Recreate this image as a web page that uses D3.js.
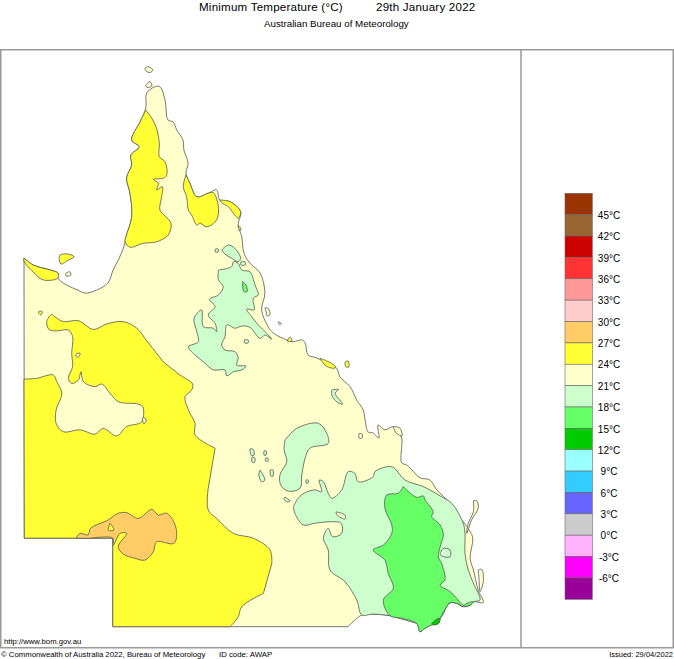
<!DOCTYPE html>
<html>
<head>
<meta charset="utf-8">
<script src="https://cdnjs.cloudflare.com/ajax/libs/d3/7.8.5/d3.min.js"></script>
<style>
body { margin: 0; background: #fff; }
text { font-family: "Liberation Sans", Arial, sans-serif; fill: #000; }
</style>
</head>
<body>
<div id="viz"></div>
<script>
const w = 674;
const h = 659;
const longEdge = 0.9; // degrees, edges longer than this stay straight

// legend, coldest first
const tempBreaks = [-6, -3, 0, 3, 6, 9, 12, 15, 18, 21, 24, 27, 30, 33, 36, 39, 42, 45];
const tempColours = ['#990099', '#ff00ff', '#ffb3ff', '#cccccc', '#6666ff', '#33ccff', '#99ffff', '#00cc00', '#66ff66',
    '#ccffcc', '#ffffcc', '#ffff33', '#ffcc66', '#ffcccc', '#ff9999', '#ff3333', '#cc0000', '#996633', '#993300'];
const tempLabels = tempBreaks.map(t => t + '°C');

// outlines in [lon, lat]
const state = [[138.00,-16.30],[138.30,-16.53],[138.87,-16.70],[139.13,-16.80],[139.13,-16.97],[139.42,-17.20],[139.80,-17.37],[140.03,-17.47],[140.42,-17.37],[140.80,-17.13],[140.97,-16.70],[141.14,-16.37],[141.33,-15.92],[141.40,-15.59],[141.59,-14.92],[141.53,-14.13],[141.42,-13.63],[141.59,-13.20],[141.56,-12.87],[141.84,-12.59],[141.59,-12.37],[141.87,-11.76],[142.06,-11.30],[142.09,-10.80],[142.37,-10.59],[142.53,-10.59],[142.70,-11.03],[142.80,-11.70],[142.97,-11.76],[143.09,-12.03],[143.30,-12.37],[143.33,-12.70],[143.47,-13.13],[143.40,-13.47],[143.53,-13.81],[143.76,-14.26],[144.14,-14.14],[144.42,-14.03],[144.53,-14.37],[144.87,-14.42],[145.22,-14.76],[145.14,-15.20],[145.26,-15.59],[145.33,-16.13],[145.53,-16.47],[145.87,-16.80],[146.03,-17.47],[145.92,-18.03],[146.14,-18.59],[146.31,-18.80],[146.64,-18.98],[146.97,-19.09],[147.26,-19.03],[147.37,-19.13],[147.47,-19.53],[147.76,-19.63],[148.09,-19.80],[148.42,-19.97],[148.53,-20.26],[148.87,-20.59],[149.09,-21.03],[149.31,-21.37],[149.37,-21.70],[149.47,-22.10],[149.63,-22.13],[149.83,-22.30],[149.80,-21.87],[150.03,-22.03],[150.30,-21.92],[150.42,-22.03],[150.59,-22.30],[150.59,-22.59],[150.59,-23.13],[150.76,-23.20],[151.03,-23.47],[151.20,-23.63],[151.53,-23.70],[151.76,-24.03],[152.20,-24.47],[152.37,-24.81],[152.64,-25.09],[152.87,-25.42],[152.96,-25.64],[152.87,-26.31],[152.98,-26.70],[153.14,-27.37],[153.31,-27.78],[152.98,-27.76],[152.87,-27.87],[152.64,-27.92],[152.42,-27.81],[152.20,-27.79],[152.09,-27.92],[151.87,-28.31],[151.81,-28.48],[151.59,-28.53],[151.37,-28.64],[151.20,-28.76],[151.09,-28.48],[150.59,-28.31],[150.20,-28.22],[149.63,-28.17],[149.26,-28.20],[148.80,-28.59],[140.96,-28.59],[140.96,-25.64],[138.01,-25.64]];
const gulfYellow = [[138.00,-16.30],[138.30,-16.53],[138.87,-16.70],[139.13,-16.80],[139.13,-16.97],[138.64,-17.03],[138.30,-16.76],[138.00,-16.40]];
const capeYellow = [[142.06,-11.37],[142.26,-11.64],[142.42,-11.98],[142.51,-12.48],[142.51,-12.92],[142.70,-13.09],[142.76,-13.53],[142.64,-13.64],[142.31,-13.68],[142.48,-13.80],[142.42,-14.03],[142.61,-13.92],[142.59,-14.26],[142.53,-14.70],[142.72,-14.92],[142.90,-15.14],[142.81,-15.53],[142.42,-15.76],[141.98,-15.81],[141.53,-15.94],[141.37,-15.76],[141.40,-15.59],[141.59,-14.92],[141.53,-14.13],[141.42,-13.63],[141.59,-13.20],[141.56,-12.87],[141.84,-12.59],[141.59,-12.37],[141.87,-11.76]];
const bayYellow = [[143.40,-13.53],[143.53,-13.81],[143.76,-14.26],[144.14,-14.14],[144.31,-14.12],[144.48,-14.59],[144.42,-15.03],[144.09,-15.26],[143.87,-15.14],[143.76,-15.20],[143.59,-14.87],[143.48,-14.70],[143.42,-14.26],[143.31,-13.92]];
const stripYellow = [[144.53,-14.37],[144.87,-14.42],[145.22,-14.76],[145.14,-14.98],[145.03,-14.87],[144.81,-14.59],[144.59,-14.46]];
const southWestYellow = [[138.00,-20.34],[138.42,-20.31],[138.98,-20.20],[139.09,-20.42],[139.26,-20.81],[139.07,-21.37],[139.07,-21.81],[139.31,-22.09],[139.87,-22.03],[140.37,-22.17],[140.64,-21.98],[141.09,-22.23],[141.42,-21.92],[141.92,-21.76],[141.96,-21.26],[141.81,-21.17],[141.14,-21.09],[140.87,-20.81],[140.59,-20.50],[140.37,-20.59],[139.98,-20.42],[139.90,-20.09],[139.81,-20.37],[139.59,-20.48],[139.48,-20.31],[139.62,-19.92],[139.59,-19.48],[139.62,-18.92],[139.48,-18.70],[139.09,-18.73],[138.83,-18.68],[138.76,-18.42],[138.92,-18.18],[139.03,-18.26],[139.31,-18.42],[139.81,-18.39],[140.31,-18.68],[140.76,-18.50],[141.31,-18.42],[141.76,-18.64],[142.03,-18.98],[142.64,-19.76],[143.20,-20.20],[143.62,-20.50],[143.59,-20.70],[143.37,-20.92],[143.48,-21.37],[143.70,-21.81],[143.70,-22.20],[144.37,-22.64],[144.14,-23.98],[144.14,-24.70],[144.42,-24.98],[144.98,-25.48],[145.64,-25.64],[146.20,-26.03],[146.26,-26.48],[145.98,-27.48],[145.26,-27.92],[145.14,-28.26],[144.87,-28.59],[140.96,-28.59],[140.96,-25.64],[138.01,-25.64]];
const channelOrange = [[139.73,-25.64],[139.87,-25.48],[140.14,-25.53],[140.22,-25.31],[140.81,-25.03],[141.14,-24.81],[141.42,-24.79],[141.81,-24.98],[142.26,-24.68],[142.48,-24.87],[142.76,-24.81],[143.07,-25.31],[143.00,-25.81],[142.42,-25.76],[142.31,-26.09],[142.03,-26.37],[141.70,-26.31],[141.31,-26.17],[141.14,-25.92],[141.42,-25.48],[141.20,-25.48],[140.98,-25.87],[140.96,-25.64],[140.48,-25.61],[140.20,-25.64]];
const innerMint = [[144.48,-16.70],[144.92,-16.59],[144.98,-16.42],[145.14,-16.48],[145.26,-16.70],[145.53,-16.76],[145.70,-17.20],[145.81,-17.53],[145.64,-17.64],[145.67,-18.03],[145.42,-18.00],[145.59,-18.26],[145.81,-18.53],[146.09,-18.81],[146.26,-19.01],[146.03,-18.87],[145.87,-18.98],[145.53,-18.61],[145.26,-18.57],[145.03,-18.64],[144.76,-18.53],[144.70,-18.92],[144.59,-19.20],[144.70,-19.37],[145.03,-19.42],[145.14,-19.64],[145.09,-19.87],[145.40,-19.90],[145.26,-20.03],[144.98,-20.09],[144.76,-20.23],[144.70,-20.03],[144.31,-20.03],[143.98,-19.76],[143.64,-19.48],[143.48,-19.26],[143.81,-19.09],[143.76,-18.76],[143.67,-18.31],[143.92,-18.03],[143.98,-18.59],[144.31,-18.64],[144.42,-18.76],[144.37,-18.48],[144.14,-18.20],[144.37,-17.92],[144.18,-17.68],[144.48,-17.53],[144.64,-17.26],[144.48,-17.03]];
const athertonMint = [[144.59,-16.03],[144.81,-15.87],[145.03,-15.98],[145.22,-16.31],[145.14,-16.42],[144.92,-16.31],[144.70,-16.17]];
const mackayMint = [[148.26,-20.70],[148.48,-20.68],[148.37,-20.81],[148.62,-21.17],[148.42,-21.09],[148.26,-20.87]];
const centralMint = [[146.70,-22.37],[147.09,-21.98],[147.81,-21.81],[148.09,-22.14],[148.14,-22.48],[147.53,-22.64],[147.37,-22.98],[147.26,-23.53],[147.20,-23.98],[146.81,-24.07],[146.56,-23.87],[146.53,-23.53],[146.76,-23.09],[146.67,-22.70]];
const southEastMint = [[146.98,-24.59],[147.14,-24.31],[147.37,-24.12],[147.70,-24.03],[147.92,-24.09],[147.84,-23.70],[147.98,-23.76],[148.14,-24.14],[148.26,-24.31],[148.59,-24.03],[148.81,-23.42],[149.03,-23.48],[149.14,-23.76],[149.64,-23.59],[149.70,-23.42],[150.26,-23.26],[150.70,-23.70],[151.31,-23.92],[151.87,-24.23],[152.26,-24.48],[152.64,-25.14],[152.70,-25.48],[152.70,-26.14],[152.81,-26.70],[152.98,-27.14],[153.20,-27.70],[152.98,-27.76],[152.87,-27.87],[152.64,-27.92],[152.42,-27.81],[152.20,-27.79],[152.09,-27.92],[151.87,-28.31],[151.09,-28.48],[150.20,-28.22],[149.63,-28.17],[149.26,-28.20],[149.09,-27.70],[148.70,-27.09],[148.20,-26.70],[148.14,-26.03],[147.98,-25.64],[148.14,-25.31],[148.29,-25.59],[148.59,-25.48],[148.57,-25.14],[148.26,-25.09],[147.70,-25.14],[147.31,-25.20],[147.03,-24.81]];
const rangesGreen = [[150.64,-23.92],[150.48,-24.14],[150.09,-24.20],[150.03,-24.64],[150.26,-25.20],[150.26,-25.48],[149.98,-25.87],[149.64,-26.03],[150.03,-26.37],[150.14,-26.81],[150.31,-27.31],[149.98,-27.70],[150.20,-28.22],[150.59,-28.31],[151.09,-28.48],[151.20,-28.76],[151.37,-28.64],[151.59,-28.53],[151.81,-28.48],[151.87,-28.31],[152.09,-27.92],[152.20,-27.79],[152.42,-27.81],[152.64,-27.92],[152.87,-27.87],[152.98,-27.76],[152.81,-27.79],[152.64,-27.87],[152.42,-27.64],[152.20,-27.42],[151.87,-27.20],[152.03,-27.03],[151.92,-26.48],[151.81,-26.26],[151.92,-25.76],[151.98,-25.53],[151.87,-25.20],[151.59,-24.92],[151.64,-24.76],[151.37,-24.37],[151.31,-24.23],[151.09,-24.28]];
const bayMint = [[151.87,-26.14],[151.98,-25.98],[152.20,-26.03],[152.20,-26.26],[151.92,-26.23]];
const spotGreen = [[145.29,-17.09],[145.40,-17.20],[145.44,-17.42],[145.33,-17.42],[145.29,-17.26]];
const borderDarkGreen = [[151.59,-28.48],[151.81,-28.31],[151.87,-28.34],[151.81,-28.48],[151.64,-28.53]];

// islands and small pockets, grouped by the band they sit in
const yellowSmall = [
    [[139.17,-16.31],[139.20,-16.20],[139.48,-16.17],[139.67,-16.26],[139.48,-16.37],[139.23,-16.50]],
    [[138.53,-18.07],[138.61,-18.09],[138.56,-18.20],[138.48,-18.10]],
    [[140.87,-25.14],[141.00,-25.37],[140.81,-25.37]],
    [[145.13,-15.23],[145.23,-15.30],[145.20,-15.40]],
    [[146.77,-19.07],[146.87,-18.93],[146.93,-19.07]],
    [[147.87,-19.64],[148.09,-19.73],[148.37,-19.90],[148.37,-19.97],[148.07,-19.90]],
    [[148.70,-19.77],[148.80,-19.73],[148.83,-19.93],[148.73,-19.93]]
];
const creamSmall = [
    [[139.39,-16.81],[139.53,-16.76],[139.56,-16.87],[139.40,-16.90]],
    [[142.03,-9.98],[142.14,-9.92],[142.29,-10.03],[142.20,-10.12],[142.07,-10.07]],
    [[142.06,-10.53],[142.20,-10.42],[142.26,-10.57],[142.09,-10.61]],
    [[139.76,-19.48],[139.87,-19.48],[139.81,-19.61],[139.73,-19.57]],
    [[141.98,-21.59],[142.07,-21.70],[142.00,-21.83],[141.95,-21.70]],
    [[148.40,-24.76],[148.70,-24.87],[148.70,-25.00],[148.43,-24.86]],
    [[152.98,-24.39],[153.09,-24.39],[153.14,-24.64],[152.92,-25.03],[152.76,-25.48],[152.81,-25.14],[152.98,-24.76]],
    [[153.14,-26.70],[153.26,-26.68],[153.31,-27.09],[153.20,-27.42],[153.17,-27.03]],
    [[146.47,-18.43],[146.57,-18.47],[146.53,-18.53]],
    [[146.03,-17.97],[146.13,-17.97],[146.20,-18.20],[146.10,-18.23],[146.07,-18.10]],
    [[150.31,-21.92],[150.53,-21.97],[150.60,-22.23],[150.40,-22.13]],
    [[149.17,-22.15],[149.27,-22.17],[149.27,-22.30],[149.17,-22.30]]
];
const mintSmall = [
    [[144.38,-16.00],[144.47,-16.00],[144.47,-16.10],[144.38,-16.10]],
    [[145.35,-19.03],[145.47,-19.03],[145.47,-19.13],[145.35,-19.13]],
    [[145.23,-16.43],[145.37,-16.43],[145.37,-16.53],[145.23,-16.53]],
    [[145.87,-23.37],[146.03,-23.70],[145.92,-23.76],[145.83,-23.53]],
    [[146.20,-23.37],[146.30,-23.37],[146.30,-23.57],[146.23,-23.57]],
    [[146.00,-22.73],[146.07,-22.73],[146.07,-22.87],[146.00,-22.87]],
    [[146.05,-22.97],[146.13,-22.97],[146.13,-23.07],[146.05,-23.07]],
    [[147.40,-23.70],[147.47,-23.70],[147.47,-23.80],[147.40,-23.80]],
    [[146.70,-24.27],[146.87,-24.40],[146.77,-24.43],[146.67,-24.33]],
    [[145.53,-22.67],[145.63,-22.67],[145.67,-22.87],[145.57,-22.87]],
    [[145.60,-22.93],[145.70,-22.97],[145.67,-23.13],[145.60,-23.10]]
];

// draw order, band is the lower temperature of the colour
const layers = [
    [21, [state]],
    [24, [gulfYellow, capeYellow, bayYellow, stripYellow, southWestYellow]],
    [27, [channelOrange]],
    [18, [innerMint, athertonMint, mackayMint, centralMint, southEastMint]],
    [15, [rangesGreen, spotGreen]],
    [18, [bayMint]],
    [12, [borderDarkGreen]],
    [24, yellowSmall],
    [21, creamSmall],
    [18, mintSmall]
];

window.onload = () => work();

function work() {
    const svg = d3.select('#viz').append('svg')
        .attr('width', w)
        .attr('height', h)
        .style('display', 'block');

    const x = d3.scaleLinear().domain([137.2, 137.2 + w / 30]).range([0, w]);
    const y = d3.scaleLinear().domain([-7.7, -7.7 - h / 30]).range([0, h]);
    const colour = d3.scaleThreshold().domain(tempBreaks).range(tempColours);
    const line = d3.line().x(d => x(d[0])).y(d => y(d[1])).curve(d3.curveCatmullRom.alpha(0.5));

    // contours are soft, the straight state borders must stay straight
    function shape(pts) {
        const closed = pts.concat([pts[0]]);
        let runs = [[closed[0]]];
        for (let i = 1; i < closed.length; i++) {
            const far = Math.hypot(closed[i][0] - closed[i - 1][0], closed[i][1] - closed[i - 1][1]) > longEdge;
            if (far) runs.push([closed[i]]);
            else runs[runs.length - 1].push(closed[i]);
        }
        return runs.map((r, i) => {
            const d = r.length > 1 ? line(r) : `M${x(r[0][0])},${y(r[0][1])}`; // a lone corner
            return i ? d.replace('M', 'L') : d;
        }).join('') + 'Z';
    }

    // frame
    svg.append('rect')
        .attr('x', 0.75).attr('y', 49.75)
        .attr('width', 672.5).attr('height', 598)
        .attr('fill', 'none').attr('stroke', '#999').attr('stroke-width', 1.5);
    svg.append('line')
        .attr('x1', 521).attr('x2', 521).attr('y1', 50).attr('y2', 648)
        .attr('stroke', '#999').attr('stroke-width', 1.5);

    // map
    layers.forEach(([band, shapes]) => {
        svg.append('g').selectAll('path')
            .data(shapes)
            .enter()
            .append('path')
            .attr('d', shape)
            .attr('fill', colour(band))
            .attr('stroke', '#555')
            .attr('stroke-width', 0.8)
            .attr('stroke-linejoin', 'round');
    });

    // legend
    const bands = tempColours.map((c, i) => i).reverse();
    const ly = d3.scaleBand().domain(bands).range([193.3, 599.3]);

    svg.selectAll('rect.band')
        .data(bands)
        .enter()
        .append('rect')
        .attr('class', 'band')
        .attr('x', 565)
        .attr('y', d => ly(d))
        .attr('width', 27.3)
        .attr('height', ly.bandwidth())
        .attr('fill', d => tempColours[d])
        .attr('stroke', '#666')
        .attr('stroke-width', 0.6);

    svg.selectAll('text.tick')
        .data(tempLabels)
        .enter()
        .append('text')
        .attr('class', 'tick')
        .attr('x', 609)
        .attr('y', (d, i) => ly(i) + 4.2)
        .attr('text-anchor', 'middle')
        .attr('font-size', 10)
        .text(d => d);

    // titles and footer
    const label = (s, tx, ty, size, anchor) => svg.append('text')
        .attr('x', tx).attr('y', ty)
        .attr('font-size', size)
        .attr('text-anchor', anchor || 'start')
        .text(s);

    label('Minimum Temperature (°C)', 199, 10.5, 11.6).attr('letter-spacing', 0.2);
    label('29th January 2022', 376, 10.5, 11.6).attr('letter-spacing', 0.2);
    label('Australian Bureau of Meteorology', 264, 27, 9.75);
    label('http://www.bom.gov.au', 4, 643.5, 7.7);
    label('© Commonwealth of Australia 2022, Bureau of Meteorology', 1, 657, 7.75);
    label('ID code: AWAP', 219, 657, 7.8);
    label('Issued: 29/04/2022', 673, 657, 7.5, 'end');
}
</script>
</body>
</html>
